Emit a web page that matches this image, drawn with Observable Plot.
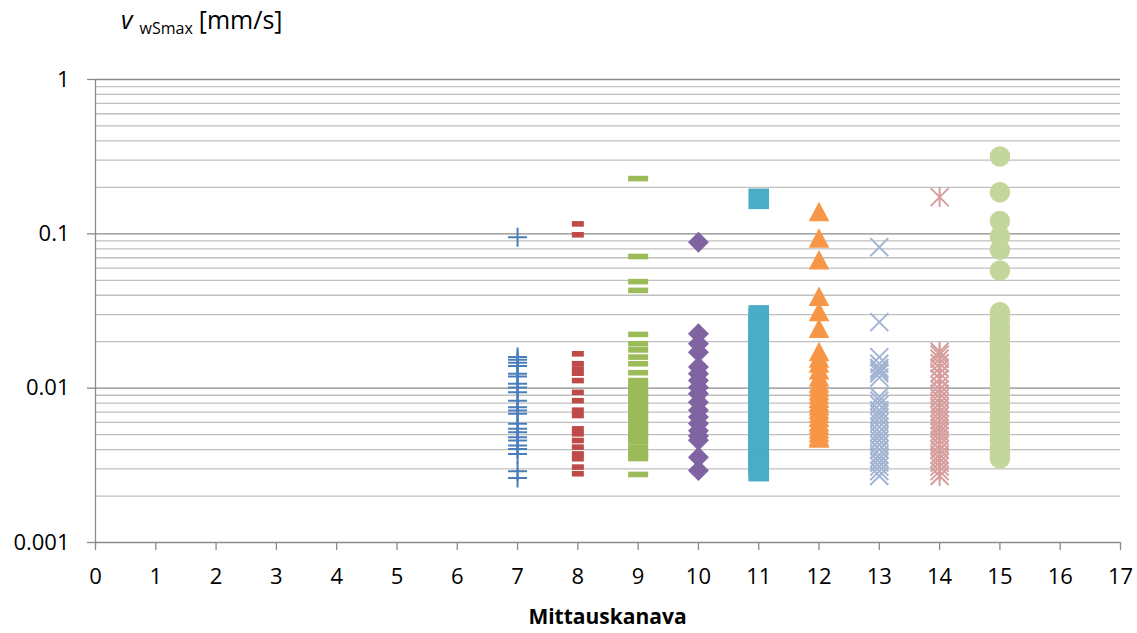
<!DOCTYPE html>
<html><head><meta charset="utf-8">
<script src="https://cdn.jsdelivr.net/npm/d3@7"></script>
<script src="https://cdn.jsdelivr.net/npm/@observablehq/plot@0.6"></script>
<style>
body{margin:0;background:#fff;font-family:"Open Sans",sans-serif;}
#wrap{position:relative;width:1137px;height:633px;}
#title{position:absolute;left:121px;top:2px;font-size:25px;color:#000;white-space:nowrap;}
#title i{font-style:italic}
#title .sub{font-size:16px;position:relative;top:5px;margin:0 6px 0 7px}
#xlabel{position:absolute;left:95px;width:1025px;top:602px;text-align:center;font-weight:bold;font-size:21px;color:#000;}
#chart{position:absolute;left:0;top:0;}
</style></head><body>
<div id="wrap"><div id="chart"></div>
<div id="title"><i>v</i><span class="sub">wSmax</span>[mm/s]</div>
<div id="xlabel">Mittauskanava</div></div>
<script>
// Data
const xTicks = [0,1,2,3,4,5,6,7,8,9,10,11,12,13,14,15,16,17];
const yTicks = [1,0.1,0.01,0.001];
const yTickLabels = ["1","0.1","0.01","0.001"];
const yMinorGrid = [0.002,0.003,0.004,0.005,0.006,0.007,0.008,0.009,
                    0.02,0.03,0.04,0.05,0.06,0.07,0.08,0.09,
                    0.2,0.3,0.4,0.5,0.6,0.7,0.8,0.9];

const ch7 = [0.095,0.0159,0.0153,0.0146,0.0139,0.0124,0.0119,0.0107,0.0101,0.0094,0.0083,0.00753,0.00717,0.00682,
             0.00588,0.00545,0.00519,0.00481,0.00458,0.00425,0.00404,0.00375,0.0029,0.00262];
const ch8 = [0.116,0.0986,0.0167,0.0144,0.0133,0.0125,0.0112,0.0094,0.0083,0.0072,0.00665,0.00545,0.00506,0.00458,
             0.00415,0.00375,0.00349,0.00308,0.00279];
const ch9 = [0.228,0.0713,0.049,0.043,0.0223,0.0194,0.0177,0.0159,0.0144,0.0126,
             0.0112,0.0107,0.0102,0.0098,0.0093,0.0089,0.0086,0.0082,0.0078,0.0075,0.0072,0.0069,0.0066,0.0063,
             0.006,0.0057,0.0055,0.0052,0.005,0.0048,0.0046,0.0045,
             0.00415,0.0039,0.00375,0.0036,0.0035,0.00276];
const ch10 = [0.0883,0.0225,0.0194,0.0171,0.0137,0.0124,0.0112,0.0101,0.0092,0.0081,0.0072,0.0065,0.0059,0.0053,
              0.0049,0.0046,0.00357,0.00293];
const ch11 = [0.1686,0.0296,0.028,0.026,0.024,0.022,0.02,0.019,0.018,0.017,0.016,0.015,0.014,0.013,0.012,0.011,
              0.0105,0.01,0.0095,0.009,0.0085,0.008,0.0075,0.007,0.0066,0.0062,0.0058,0.0055,0.0052,0.0049,
              0.0046,0.0043,0.004,0.0037,0.0035,0.0033,0.0031,0.0029];
const ch12 = [0.138,0.0929,0.0672,0.0389,0.031,0.0242,0.0171,0.0155,0.0144,0.013,0.0117,
              0.0107,0.0101,0.0095,0.009,0.0085,0.008,0.0076,0.0072,0.0068,0.0064,0.006,0.0057,0.0054,0.0051,
              0.0048,0.0047];
const ch13 = [0.082,0.0268,0.0159,0.0144,0.0135,0.013,0.0125,0.0117,
              0.0088,0.0083,0.0078,0.0072,0.0068,0.0064,0.006,0.0056,0.0052,0.0049,0.0046,0.0043,0.004,0.0037,
              0.0035,0.0033,0.0031,0.0029,0.0027];
const ch14 = [0.173,0.0172,0.0165,0.0155,0.0145,0.0135,0.0125,0.0115,0.0105,0.0098,0.0092,0.0086,0.008,0.0075,
              0.007,0.0066,0.0062,0.0058,0.0055,0.0052,0.0049,0.0046,0.0043,0.004,0.0037,0.0035,0.0033,0.0031,
              0.0029,0.0027];
const ch15 = [0.317,0.186,0.121,0.096,0.0788,0.0578,0.031,0.028,0.025,0.023,0.021,0.019,0.0175,0.016,0.0148,
              0.0136,0.0125,0.0115,0.0105,0.0097,0.009,0.0083,0.0076,0.007,0.0064,0.0059,0.0054,0.005,0.0046,
              0.0042,0.0039,0.0037,0.0035];

const seriesValues = [ch7,ch8,ch9,ch10,ch11,ch12,ch13,ch14,ch15];
const channels = [7,8,9,10,11,12,13,14,15];

// Marker shapes (Excel-like)
const sym = {
  plus:{draw(c){c.moveTo(-9.5,0);c.lineTo(9.5,0);c.moveTo(0,-9.5);c.lineTo(0,9.5);}},
  dashS:{draw(c){c.rect(-6,-2.8,12,5.6);}},
  dashL:{draw(c){c.rect(-10,-2.8,20,5.6);}},
  diamond:{draw(c){c.moveTo(0,-10.5);c.lineTo(10.5,0);c.lineTo(0,10.5);c.lineTo(-10.5,0);c.closePath();}},
  square:{draw(c){c.rect(-10.3,-10.3,20.6,20.6);}},
  triangle:{draw(c){c.moveTo(0,-10.5);c.lineTo(10.3,9);c.lineTo(-10.3,9);c.closePath();}},
  times:{draw(c){c.moveTo(-9,-9);c.lineTo(9,9);c.moveTo(9,-9);c.lineTo(-9,9);}},
  asterisk:{draw(c){c.moveTo(-9,-9);c.lineTo(9,9);c.moveTo(9,-9);c.lineTo(-9,9);c.moveTo(0,-10);c.lineTo(0,10);}},
  circle:{draw(c){c.moveTo(10.3,0);c.arc(0,0,10.3,0,2*Math.PI);}}
};
const styles = [
  {symbol:sym.plus, fill:"none", stroke:"#4A7EBB", strokeWidth:2},
  {symbol:sym.dashS, fill:"#BE4B48", stroke:"none"},
  {symbol:sym.dashL, fill:"#9BBB59", stroke:"none"},
  {symbol:sym.diamond, fill:"#8064A2", stroke:"none"},
  {symbol:sym.square, fill:"#4BACC6", stroke:"none"},
  {symbol:sym.triangle, fill:"#F79646", stroke:"none"},
  {symbol:sym.times, fill:"none", stroke:"#A2B4D3", strokeWidth:2},
  {symbol:sym.asterisk, fill:"none", stroke:"#D69F9E", strokeWidth:2},
  {symbol:sym.circle, fill:"#C3D69B", stroke:"none"}
];

const dotMarks = channels.map((ch,i) =>
  Plot.dot(seriesValues[i].map(v => ({x:ch, y:v})), {x:"x", y:"y", r:10, ...styles[i]})
);

const chart = Plot.plot({
  width:1137, height:633,
  marginLeft:95, marginRight:17, marginTop:79, marginBottom:91,
  style:{fontFamily:"Open Sans, sans-serif", fontSize:"22px", color:"#000", background:"#fff", overflow:"visible"},
  x:{domain:[0,17]},
  y:{type:"log", domain:[0.001,1]},
  marks:[
    Plot.ruleY(yMinorGrid, {stroke:"#C0C0C0", strokeWidth:1.3}),
    Plot.ruleY(yTicks, {stroke:"#8A8A8A", strokeWidth:1.3}),
    Plot.ruleX([0], {stroke:"#8A8A8A", strokeWidth:1.3}),
    Plot.axisX({ticks:xTicks, tickSize:8, tickPadding:18, stroke:"#8A8A8A", strokeWidth:1.3, label:null, tickFormat:d=>String(d)}),
    Plot.axisY({ticks:yTicks, tickSize:8, tickPadding:18, stroke:"#8A8A8A", strokeWidth:1.3, label:null,
                tickFormat:d=>yTickLabels[yTicks.indexOf(d)]}),
    ...dotMarks
  ]
});
document.getElementById("chart").appendChild(chart);
</script>
</body></html>
